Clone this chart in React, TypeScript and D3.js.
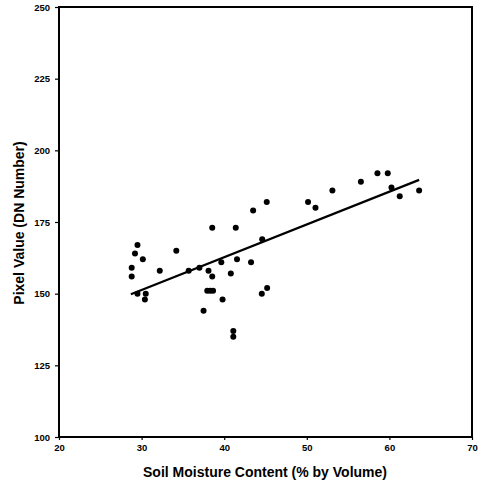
import { useEffect, useRef } from "react";
import * as d3 from "d3";

// soil moisture (% by volume) vs pixel value (DN)
const moisture = [
  28.8, 28.8, 29.2, 29.5, 29.5, 30.15, 30.5, 30.4, 32.2, 34.2, 35.7, 37.0, 37.5, 38.1,
  37.95, 38.3, 38.55, 38.55, 38.65, 39.65, 39.8, 40.8, 41.1, 41.1, 41.4, 41.55, 43.25,
  43.5, 44.6, 44.55, 45.15, 45.2, 50.15, 51.05, 53.1, 56.55, 58.55, 59.8, 60.25, 61.25, 63.6,
];
const pixelValue = [
  159, 156, 164, 167, 150, 162, 150, 148, 158, 165, 158, 159, 144, 158, 151, 151, 156,
  173, 151, 161, 148, 157, 137, 135, 173, 162, 161, 179, 169, 150, 182, 152, 182, 180,
  186, 189, 192, 192, 187, 184, 186,
];
// fitted trend line end points
const trendX = [28.7, 63.6];
const trendY = [149.8, 189.7];

const xTicks = [20, 30, 40, 50, 60, 70];
const yTicks = [100, 125, 150, 175, 200, 225, 250];

export default function App() {
  const svgRef = useRef<SVGSVGElement>(null);

  useEffect(() => {
    const svg = d3.select(svgRef.current);
    svg.selectAll("*").remove();

    const width = 481;
    const height = 483;
    const margin = { top: 7, right: 9, bottom: 46, left: 59 };
    const font = "'Liberation Sans', Arial, sans-serif";

    const x = d3.scaleLinear().domain([20, 70]).range([margin.left, width - margin.right]);
    const y = d3.scaleLinear().domain([100, 250]).range([height - margin.bottom, margin.top]);

    svg.append("rect").attr("width", width).attr("height", height).attr("fill", "#fff");

    // frame
    svg
      .append("rect")
      .attr("x", x(20))
      .attr("y", y(250))
      .attr("width", x(70) - x(20))
      .attr("height", y(100) - y(250))
      .attr("fill", "none")
      .attr("stroke", "#000")
      .attr("stroke-width", 2);

    const xAxis = svg
      .append("g")
      .attr("transform", `translate(0,${y(100)})`)
      .call(d3.axisBottom(x).tickValues(xTicks).tickSize(3).tickPadding(4));
    xAxis.select(".domain").remove();
    xAxis.selectAll("line").attr("stroke", "#000").attr("stroke-width", 1.2);
    xAxis
      .selectAll("text")
      .attr("font-family", font)
      .attr("font-weight", "bold")
      .attr("font-size", 9.5)
      .attr("fill", "#000");

    const yAxis = svg
      .append("g")
      .attr("transform", `translate(${x(20)},0)`)
      .call(d3.axisLeft(y).tickValues(yTicks).tickSize(4).tickPadding(5));
    yAxis.select(".domain").remove();
    yAxis.selectAll("line").attr("stroke", "#000").attr("stroke-width", 1.2);
    yAxis
      .selectAll("text")
      .attr("font-family", font)
      .attr("font-weight", "bold")
      .attr("font-size", 9.5)
      .attr("fill", "#000");

    // trend line
    svg
      .append("path")
      .datum(trendX.map((v, i) => [v, trendY[i]] as [number, number]))
      .attr("d", d3.line<[number, number]>().x((d) => x(d[0])).y((d) => y(d[1])))
      .attr("stroke", "#000")
      .attr("stroke-width", 2.2)
      .attr("fill", "none");

    // points
    svg
      .append("g")
      .selectAll("circle")
      .data(moisture.map((m, i) => ({ m, p: pixelValue[i] })))
      .enter()
      .append("circle")
      .attr("cx", (d) => x(d.m))
      .attr("cy", (d) => y(d.p))
      .attr("r", 3)
      .attr("fill", "#000");

    svg
      .append("text")
      .attr("x", 265)
      .attr("y", 477)
      .attr("text-anchor", "middle")
      .attr("font-family", font)
      .attr("font-weight", "bold")
      .attr("font-size", 14)
      .text("Soil Moisture Content (% by Volume)");

    svg
      .append("text")
      .attr("transform", `translate(24,223) rotate(-90)`)
      .attr("text-anchor", "middle")
      .attr("font-family", font)
      .attr("font-weight", "bold")
      .attr("font-size", 14)
      .text("Pixel Value (DN Number)");
  }, []);

  return (
    <div style={{ position: "absolute", left: 0, top: 0 }}>
      <svg ref={svgRef} width={481} height={483} style={{ display: "block" }} />
    </div>
  );
}
